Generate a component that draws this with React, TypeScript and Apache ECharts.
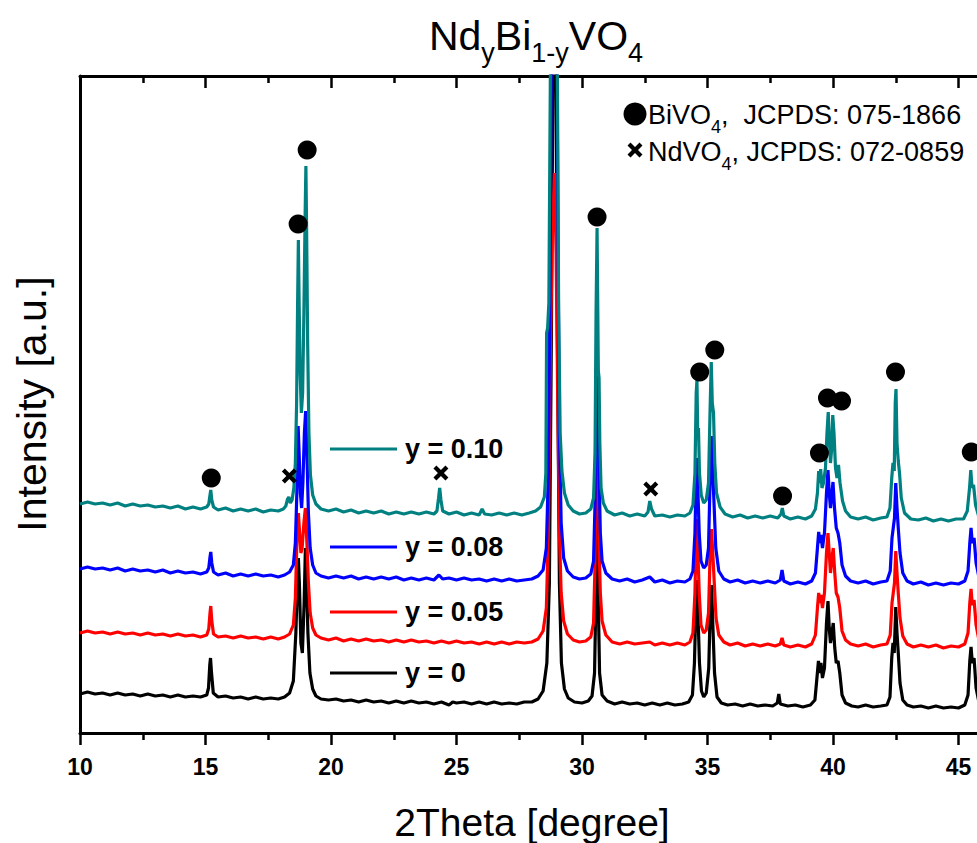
import React, { useEffect, useRef } from "react";
import * as echarts from "echarts";

const FONT = '"Liberation Sans", Arial, Helvetica, sans-serif';

// ---- data (2Theta in degrees, intensity in a.u. incl. vertical offsets) ----
const traceY0: number[][] = [
  [10.0,39],[10.3,41],[10.6,39],[10.9,40],[11.2,38],[11.5,40],[11.8,38],[12.1,39],[12.4,37],[12.7,39],[13.0,37],[13.3,38],[13.6,36],[13.9,38],[14.2,36],[14.5,37],[14.8,36],[15.05,38],[15.12,45],[15.17,68],[15.2,75],[15.24,60],[15.31,40],[15.5,36],[15.8,37],[16.1,35],[16.4,36],[16.7,34],[17.0,36],[17.3,34],[17.6,35],[17.9,34],[18.15,36],[18.35,40],[18.5,52],[18.6,100],[18.66,150],[18.7,175],[18.74,150],[18.8,90],[18.86,80],[18.93,130],[18.98,185],[19.02,160],[19.08,100],[19.16,60],[19.27,44],[19.4,37],[19.6,34],[19.9,33],[20.2,34],[20.5,32],[20.8,33],[21.1,31],[21.4,33],[21.7,31],[22.0,32],[22.3,30],[22.6,32],[22.9,30],[23.2,32],[23.5,30],[23.8,31],[24.1,29],[24.4,31],[24.7,28],[24.85,31],[25.0,30],[25.3,31],[25.6,29],[25.9,31],[26.2,29],[26.5,31],[26.8,29],[27.1,30],[27.4,29],[27.7,31],[28.0,31],[28.25,34],[28.45,42],[28.6,70],[28.7,150],[28.78,400],[28.84,660],[28.9,900],[28.96,660],[29.02,400],[29.1,150],[29.18,70],[29.3,44],[29.45,35],[29.7,31],[30.0,30],[30.25,32],[30.4,37],[30.5,60],[30.55,130],[30.6,230],[30.65,130],[30.7,60],[30.8,38],[31.0,32],[31.3,29],[31.6,31],[31.9,29],[32.2,30],[32.5,28],[32.8,30],[33.1,28],[33.4,30],[33.7,28],[34.0,29],[34.25,31],[34.4,38],[34.48,70],[34.54,130],[34.58,153],[34.62,120],[34.68,70],[34.76,42],[34.85,36],[34.95,40],[35.05,65],[35.11,125],[35.16,148],[35.21,110],[35.28,60],[35.38,36],[35.55,30],[35.8,28],[36.1,29],[36.4,27],[36.7,29],[37.0,27],[37.3,28],[37.6,27],[37.78,30],[37.84,39],[37.9,29],[38.2,27],[38.5,28],[38.8,26],[39.1,28],[39.28,33],[39.36,55],[39.42,72],[39.47,60],[39.52,70],[39.58,55],[39.66,65],[39.74,110],[39.8,132],[39.85,105],[39.9,90],[39.96,100],[40.01,110],[40.07,85],[40.13,70],[40.2,72],[40.27,60],[40.36,38],[40.5,30],[40.75,27],[41.0,26],[41.3,28],[41.6,26],[41.9,27],[42.15,28],[42.27,36],[42.34,75],[42.39,90],[42.44,80],[42.5,126],[42.55,100],[42.6,80],[42.67,50],[42.78,33],[42.95,28],[43.2,26],[43.5,27],[43.8,25],[44.1,27],[44.4,25],[44.7,26],[45.0,25],[45.25,28],[45.38,38],[45.45,72],[45.5,86],[45.55,70],[45.62,75],[45.7,45],[45.82,30],[46.0,26],
];

const traceY005: number[][] = [
  [10.0,100],[10.3,102],[10.6,100],[10.9,101],[11.2,99],[11.5,101],[11.8,99],[12.1,100],[12.4,98],[12.7,100],[13.0,98],[13.3,99],[13.6,97],[13.9,99],[14.2,97],[14.5,98],[14.8,96],[15.05,98],[15.13,104],[15.18,120],[15.21,127],[15.25,112],[15.32,99],[15.5,96],[15.8,97],[16.1,95],[16.4,97],[16.7,95],[17.0,96],[17.3,94],[17.6,96],[17.9,94],[18.15,96],[18.35,99],[18.5,108],[18.58,135],[18.64,190],[18.7,220],[18.75,200],[18.8,180],[18.85,185],[18.92,210],[18.98,225],[19.04,190],[19.1,150],[19.17,120],[19.27,105],[19.4,98],[19.6,95],[19.9,93],[20.2,95],[20.5,92],[20.8,94],[21.1,92],[21.4,94],[21.7,92],[22.0,93],[22.3,91],[22.6,93],[22.9,91],[23.2,93],[23.5,91],[23.8,92],[24.1,90],[24.4,92],[24.7,90],[25.0,92],[25.3,90],[25.6,91],[25.9,89],[26.2,91],[26.5,89],[26.8,91],[27.1,89],[27.4,91],[27.7,90],[28.0,91],[28.25,94],[28.45,102],[28.58,125],[28.66,200],[28.74,380],[28.82,500],[28.9,560],[28.97,480],[29.03,340],[29.1,200],[29.17,140],[29.27,112],[29.42,99],[29.65,93],[29.9,91],[30.15,92],[30.35,96],[30.46,110],[30.52,170],[30.56,280],[30.6,330],[30.64,270],[30.68,190],[30.73,140],[30.8,112],[30.95,98],[31.2,91],[31.5,89],[31.8,91],[32.1,89],[32.4,90],[32.7,91],[32.9,88],[33.2,90],[33.5,88],[33.8,90],[34.1,88],[34.3,91],[34.42,100],[34.5,140],[34.55,200],[34.58,214],[34.62,180],[34.67,140],[34.74,108],[34.85,100],[34.95,103],[35.04,120],[35.1,175],[35.16,204],[35.21,180],[35.27,150],[35.34,115],[35.45,98],[35.65,91],[35.9,88],[36.2,90],[36.5,87],[36.8,89],[37.1,87],[37.4,89],[37.7,87],[37.9,89],[37.97,95],[38.04,88],[38.3,86],[38.6,88],[38.9,86],[39.15,89],[39.3,98],[39.38,125],[39.43,140],[39.48,130],[39.52,138],[39.58,125],[39.66,140],[39.74,180],[39.8,200],[39.85,180],[39.9,160],[39.96,175],[40.01,185],[40.07,160],[40.13,140],[40.2,136],[40.27,125],[40.36,102],[40.5,93],[40.7,89],[41.0,87],[41.3,89],[41.6,86],[41.9,88],[42.15,89],[42.28,98],[42.35,130],[42.4,140],[42.45,150],[42.5,182],[42.55,160],[42.6,140],[42.67,115],[42.78,97],[42.95,89],[43.2,86],[43.5,88],[43.8,86],[44.1,88],[44.4,85],[44.7,87],[45.0,86],[45.25,89],[45.38,100],[45.45,130],[45.5,144],[45.55,128],[45.62,133],[45.7,108],[45.82,92],[46.0,87],
];

const traceY008: number[][] = [
  [10.0,164],[10.3,166],[10.6,164],[10.9,165],[11.2,163],[11.5,165],[11.8,162],[12.1,164],[12.4,162],[12.7,163],[13.0,161],[13.3,163],[13.6,160],[13.9,162],[14.2,160],[14.5,161],[14.8,159],[15.05,161],[15.13,165],[15.18,176],[15.21,181],[15.25,170],[15.32,161],[15.5,158],[15.8,160],[16.1,157],[16.4,159],[16.7,157],[17.0,159],[17.3,157],[17.6,158],[17.9,156],[18.15,158],[18.35,161],[18.5,168],[18.58,190],[18.64,240],[18.69,307],[18.73,280],[18.78,240],[18.83,225],[18.88,250],[18.94,300],[18.99,322],[19.04,280],[19.1,220],[19.17,185],[19.27,168],[19.4,160],[19.6,157],[19.9,155],[20.2,157],[20.5,155],[20.8,157],[21.1,154],[21.4,156],[21.7,154],[22.0,156],[22.3,154],[22.6,156],[22.9,153],[23.2,155],[23.5,153],[23.8,155],[24.1,153],[24.3,158],[24.45,154],[24.7,155],[25.0,153],[25.3,155],[25.6,153],[25.9,154],[26.2,152],[26.5,154],[26.8,152],[27.1,154],[27.4,152],[27.7,153],[28.0,154],[28.25,157],[28.45,163],[28.58,185],[28.66,260],[28.74,500],[28.8,800],[28.9,1100],[28.98,800],[29.04,500],[29.1,300],[29.17,210],[29.27,175],[29.42,162],[29.65,156],[29.9,154],[30.15,155],[30.35,159],[30.46,172],[30.52,230],[30.56,340],[30.6,404],[30.64,330],[30.68,260],[30.73,200],[30.8,172],[30.95,160],[31.2,154],[31.5,152],[31.8,154],[32.1,151],[32.4,153],[32.7,156],[32.9,151],[33.2,153],[33.5,150],[33.8,152],[34.1,151],[34.3,154],[34.42,162],[34.5,200],[34.55,260],[34.58,275],[34.62,240],[34.67,200],[34.74,172],[34.85,165],[34.95,168],[35.04,185],[35.1,250],[35.15,297],[35.2,265],[35.26,230],[35.33,185],[35.45,162],[35.65,154],[35.9,151],[36.2,153],[36.5,150],[36.8,152],[37.1,150],[37.4,152],[37.7,150],[37.9,153],[37.97,163],[38.04,152],[38.3,149],[38.6,151],[38.9,149],[39.15,152],[39.3,160],[39.38,185],[39.43,201],[39.48,190],[39.52,198],[39.58,185],[39.66,200],[39.74,240],[39.8,263],[39.85,240],[39.9,225],[39.96,240],[40.0,251],[40.06,225],[40.13,205],[40.2,200],[40.27,190],[40.36,168],[40.5,157],[40.7,152],[41.0,150],[41.3,152],[41.6,149],[41.9,151],[42.15,152],[42.28,162],[42.35,195],[42.4,205],[42.45,215],[42.5,250],[42.55,225],[42.6,205],[42.67,180],[42.78,160],[42.95,152],[43.2,149],[43.5,151],[43.8,148],[44.1,150],[44.4,148],[44.7,150],[45.0,149],[45.25,152],[45.38,162],[45.45,190],[45.5,205],[45.55,190],[45.62,195],[45.7,170],[45.82,155],[46.0,150],
];

const traceY010: number[][] = [
  [10.0,229],[10.3,231],[10.6,229],[10.9,230],[11.2,228],[11.5,230],[11.8,227],[12.1,229],[12.4,227],[12.7,228],[13.0,226],[13.3,227],[13.6,225],[13.9,227],[14.2,224],[14.5,226],[14.8,224],[15.05,226],[15.13,229],[15.18,238],[15.21,243],[15.25,233],[15.32,226],[15.5,223],[15.8,225],[16.1,222],[16.4,224],[16.7,222],[17.0,224],[17.3,221],[17.6,223],[17.9,222],[18.1,224],[18.2,227],[18.27,234],[18.32,236],[18.38,230],[18.45,233],[18.52,245],[18.58,270],[18.63,330],[18.67,430],[18.7,493],[18.73,430],[18.77,360],[18.82,320],[18.87,340],[18.92,420],[18.97,520],[19.0,567],[19.03,500],[19.07,390],[19.12,300],[19.18,258],[19.27,238],[19.4,229],[19.6,224],[19.9,222],[20.2,224],[20.5,221],[20.8,223],[21.1,220],[21.4,222],[21.7,220],[22.0,222],[22.3,219],[22.6,221],[22.9,219],[23.2,221],[23.5,219],[23.8,221],[24.1,219],[24.22,222],[24.28,234],[24.33,245],[24.38,233],[24.45,222],[24.7,219],[25.0,221],[25.3,218],[25.6,220],[25.9,218],[26.02,224],[26.12,219],[26.4,218],[26.7,220],[27.0,218],[27.3,220],[27.6,218],[27.9,220],[28.15,222],[28.35,226],[28.5,236],[28.56,260],[28.59,400],[28.63,405],[28.68,430],[28.74,660],[28.8,900],[28.88,1400],[28.96,900],[29.02,660],[29.07,420],[29.13,300],[29.2,262],[29.3,240],[29.45,228],[29.65,222],[29.9,219],[30.15,220],[30.35,224],[30.46,235],[30.52,280],[30.56,420],[30.6,505],[30.63,420],[30.65,362],[30.68,355],[30.71,290],[30.76,245],[30.85,230],[31.0,222],[31.3,218],[31.6,220],[31.9,217],[32.2,219],[32.5,217],[32.63,221],[32.7,232],[32.77,224],[32.9,217],[33.2,218],[33.5,216],[33.8,218],[34.1,217],[34.3,220],[34.42,228],[34.5,260],[34.55,340],[34.58,353],[34.61,300],[34.64,305],[34.68,260],[34.75,238],[34.85,230],[34.95,233],[35.04,250],[35.1,320],[35.15,371],[35.19,330],[35.24,320],[35.29,270],[35.36,240],[35.5,226],[35.7,219],[36.0,216],[36.3,218],[36.6,215],[36.9,217],[37.2,215],[37.5,217],[37.8,215],[37.93,219],[37.98,225],[38.04,217],[38.3,214],[38.6,216],[38.9,214],[39.15,217],[39.3,224],[39.38,240],[39.43,262],[39.47,250],[39.51,264],[39.56,245],[39.62,250],[39.7,265],[39.76,300],[39.81,321],[39.86,290],[39.9,270],[39.95,285],[39.99,318],[40.04,300],[40.1,265],[40.16,255],[40.22,268],[40.28,250],[40.38,232],[40.5,222],[40.7,216],[41.0,214],[41.3,216],[41.6,213],[41.9,215],[42.15,216],[42.27,225],[42.34,255],[42.39,270],[42.44,262],[42.48,330],[42.51,344],[42.55,290],[42.6,272],[42.65,260],[42.72,235],[42.85,220],[43.1,214],[43.4,213],[43.7,215],[44.0,212],[44.3,214],[44.6,212],[44.9,214],[45.2,214],[45.35,222],[45.44,245],[45.49,263],[45.54,245],[45.6,248],[45.68,228],[45.8,217],[46.0,213],
];

const seriesNames = ["y = 0", "y = 0.05", "y = 0.08", "y = 0.10"];
const seriesColors = ["#000000", "#ff0000", "#0000ff", "#008080"];
const seriesData = [traceY0, traceY005, traceY008, traceY010];

// phase markers (2Theta, intensity)
const bivo4Markers: number[][] = [
  [15.23,255],[18.69,509],[19.05,583],[30.6,516],[34.69,361],[35.29,383],
  [37.99,237],[39.46,280],[39.78,335],[40.34,332],[42.49,361],[45.51,281],
];
const ndvo4Markers: number[][] = [[18.34,257],[24.38,260],[32.74,244]];

const xLabeled = [10, 15, 20, 25, 30, 35, 40, 45];

// phase legend text pieces: [main, subscript, rest]
const phaseLegend = [
  ["BiVO", "4", ",  JCPDS: 075-1866"],
  ["NdVO", "4", ", JCPDS: 072-0859"],
];

const CROSS =
  "path://M0,3 L3,0 L7.5,4.5 L12,0 L15,3 L10.5,7.5 L15,12 L12,15 L7.5,10.5 L3,15 L0,12 L4.5,7.5 Z";

function measure(text: string, size: number): number {
  const c = document.createElement("canvas").getContext("2d");
  if (!c) return text.length * size * 0.55;
  c.font = `${size}px "Liberation Sans", Arial, sans-serif`;
  return c.measureText(text).width;
}

export default function App() {
  const ref = useRef<HTMLDivElement>(null);

  useEffect(() => {
    if (!ref.current) return;
    const chart = echarts.init(ref.current, undefined, { renderer: "svg" });

    const legendRowY = [673, 612, 547, 449];

    const xCommon = {
      type: "value" as const,
      min: 10,
      max: 50,
      interval: 5,
      splitLine: { show: false },
      minorSplitLine: { show: false },
      axisLine: { show: true, onZero: false, lineStyle: { color: "#000", width: 3 } },
    };

    const cx = 635;
    const cyX = 150;
    const crossPts = [
      [-7.5, -4.5], [-4.5, -7.5], [0, -3], [4.5, -7.5], [7.5, -4.5], [3, 0],
      [7.5, 4.5], [4.5, 7.5], [0, 3], [-4.5, 7.5], [-7.5, 4.5], [-3, 0],
    ].map(([a, b]) => [cx + a, cyX + b]);

    // phase legend texts built from measured pieces
    const MAIN = 27;
    const SUB = 18;
    const rowsY = [115, 152];
    const legendTexts: any[] = [];
    phaseLegend.forEach((parts, r) => {
      const y = rowsY[r];
      let x = 648;
      const w0 = measure(parts[0], MAIN);
      const w1 = measure(parts[1], SUB);
      legendTexts.push({
        type: "text", x, y,
        style: { text: parts[0], fontFamily: FONT, fontSize: MAIN, fill: "#000", textAlign: "left", textVerticalAlign: "middle" },
      });
      x += w0;
      legendTexts.push({
        type: "text", x, y: y + 12,
        style: { text: parts[1], fontFamily: FONT, fontSize: SUB, fill: "#000", textAlign: "left", textVerticalAlign: "middle" },
      });
      x += w1;
      legendTexts.push({
        type: "text", x, y,
        style: { text: parts[2], fontFamily: FONT, fontSize: MAIN, fill: "#000", textAlign: "left", textVerticalAlign: "middle" },
      });
    });

    const option: any = {
      animation: false,
      backgroundColor: "#ffffff",
      grid: { left: 80, top: 76, width: 1004, height: 657, containLabel: false },
      xAxis: [
        {
          ...xCommon,
          position: "bottom",
          axisTick: { show: true, inside: false, length: 12, lineStyle: { color: "#000", width: 2.5 } },
          minorTick: { show: true, splitNumber: 2, length: 7, lineStyle: { color: "#000", width: 2.5 } },
          axisLabel: {
            show: true,
            margin: 22,
            showMaxLabel: false,
            color: "#000",
            fontFamily: FONT,
            fontWeight: "bold",
            fontSize: 23,
            formatter: (v: number) => (xLabeled.includes(v) ? String(v) : ""),
          },
        },
        {
          ...xCommon,
          position: "top",
          axisTick: { show: true, inside: true, length: 12, lineStyle: { color: "#000", width: 2.5 } },
          minorTick: { show: true, splitNumber: 2, length: 7, lineStyle: { color: "#000", width: 2.5 } },
          axisLabel: { show: false },
        },
      ],
      yAxis: {
        type: "value",
        min: 0,
        max: 657,
        axisLine: { show: true, onZero: false, lineStyle: { color: "#000", width: 3 } },
        axisTick: { show: false },
        axisLabel: { show: false },
        splitLine: { show: false },
      },
      legend: seriesNames.map((name, i) => ({
        data: [name],
        left: 330,
        top: legendRowY[i] - 15,
        icon: "rect",
        itemWidth: 67,
        itemHeight: 3,
        itemGap: 0,
        padding: 0,
        selectedMode: false,
        textStyle: {
          fontFamily: FONT,
          fontSize: 27,
          fontWeight: "bold",
          color: "#000",
          lineHeight: 30,
          padding: [0, 0, 0, 3],
        },
      })),
      series: [
        ...seriesData.map((d, i) => ({
          name: seriesNames[i],
          type: "line",
          data: d,
          showSymbol: false,
          symbol: "none",
          clip: true,
          silent: true,
          color: seriesColors[i],
          lineStyle: { color: seriesColors[i], width: 3.2 },
          z: 2 + i * 0.01,
        })),
        {
          name: "BiVO4",
          type: "scatter",
          data: bivo4Markers,
          symbol: "circle",
          symbolSize: 19,
          itemStyle: { color: "#000", opacity: 1 },
          silent: true,
          z: 5,
        },
        {
          name: "NdVO4",
          type: "scatter",
          data: ndvo4Markers,
          symbol: CROSS,
          symbolSize: 15,
          itemStyle: { color: "#000", opacity: 1 },
          silent: true,
          z: 5,
        },
      ],
      graphic: [
        {
          type: "text",
          x: 536,
          y: 36,
          style: {
            text: "{m|Nd}{s|y}{m|Bi}{s|1-y}{m|VO}{s|4}",
            textAlign: "center",
            textVerticalAlign: "middle",
            fill: "#000",
            rich: {
              m: { fontFamily: FONT, fontSize: 41, lineHeight: 60, verticalAlign: "middle", fill: "#000" },
              s: { fontFamily: FONT, fontSize: 27, lineHeight: 24, verticalAlign: "bottom", fill: "#000" },
            },
          },
        },
        {
          type: "text",
          x: 532,
          y: 822,
          style: {
            text: "2Theta [degree]",
            fontFamily: FONT,
            fontSize: 39,
            fill: "#000",
            textAlign: "center",
            textVerticalAlign: "middle",
          },
        },
        {
          type: "text",
          x: 32,
          y: 404,
          rotation: Math.PI / 2,
          style: {
            text: "Intensity [a.u.]",
            fontFamily: FONT,
            fontSize: 41,
            fill: "#000",
            textAlign: "center",
            textVerticalAlign: "middle",
          },
        },
        {
          type: "circle",
          shape: { cx: 635, cy: 114, r: 11.5 },
          style: { fill: "#000" },
        },
        {
          type: "polygon",
          shape: { points: crossPts },
          style: { fill: "#000" },
        },
        ...legendTexts,
      ],
    };

    chart.setOption(option);
    return () => {
      chart.dispose();
    };
  }, []);

  return (
    <div
      style={{
        position: "fixed",
        left: 0,
        top: 0,
        width: 977,
        height: 843,
        overflow: "hidden",
        background: "#fff",
      }}
    >
      <div ref={ref} style={{ width: 1100, height: 843 }} />
    </div>
  );
}
